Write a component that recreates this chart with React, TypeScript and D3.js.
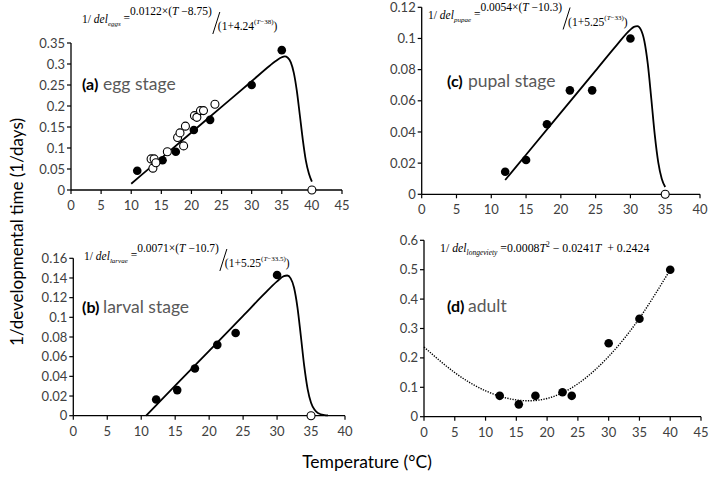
import React, { useLayoutEffect, useRef, useState } from "react";
import * as d3 from "d3";

// ---------- data ----------
// (a) egg stage
const eggFilledT = [11, 15.2, 17.4, 20.4, 23.1, 30, 35];
const eggFilledR = [0.046, 0.071, 0.091, 0.143, 0.167, 0.25, 0.333];
const eggOpenT = [13.3, 13.8, 13.6, 14.1, 16.0, 17.7, 18.1, 19.0, 18.7, 20.5, 20.9, 21.5, 22.0, 23.9, 40];
const eggOpenR = [0.074, 0.074, 0.052, 0.065, 0.091, 0.125, 0.136, 0.152, 0.105, 0.177, 0.173, 0.189, 0.189, 0.204, 0];
const eggCurveT = [10, 15, 20, 25, 30, 33, 34, 35, 35.5, 36, 36.5, 37, 37.5, 38, 38.5, 39, 39.5, 40];
const eggCurveR = [0.015, 0.076, 0.137, 0.198, 0.259, 0.296, 0.307, 0.316, 0.318, 0.315, 0.304, 0.279, 0.236, 0.178, 0.119, 0.07, 0.039, 0.02];

// (b) larval stage
const larvFilledT = [12.2, 15.3, 17.9, 21.2, 23.9, 30];
const larvFilledR = [0.0165, 0.026, 0.048, 0.072, 0.084, 0.143];
const larvOpenT = [35];
const larvOpenR = [0];
const larvCurveT = [10.7, 15, 20, 25, 28, 30, 31, 31.5, 32, 32.5, 33, 33.5, 34, 34.5, 35, 35.5, 36, 37, 37.5];
const larvCurveR = [0, 0.0305, 0.066, 0.1015, 0.123, 0.1366, 0.1419, 0.1425, 0.1396, 0.13, 0.1102, 0.081, 0.0503, 0.027, 0.0132, 0.0062, 0.0028, 0.0006, 0.0003];

// (c) pupal stage
const pupFilledT = [12, 15, 18, 21.3, 24.5, 30];
const pupFilledR = [0.0145, 0.022, 0.045, 0.0667, 0.0667, 0.1];
const pupOpenT = [35];
const pupOpenR = [0];
const pupCurveT = [12, 15, 20, 25, 28, 30, 30.5, 31, 31.5, 32, 32.5, 33, 33.5, 34, 34.5, 35];
const pupCurveR = [0.0092, 0.0254, 0.0524, 0.0794, 0.0956, 0.1057, 0.1074, 0.1079, 0.1057, 0.0984, 0.0835, 0.0613, 0.0381, 0.0205, 0.01, 0.0047];

// (d) adult
const adultT = [12.3, 15.4, 18.1, 22.5, 24, 30, 35, 40];
const adultR = [0.071, 0.042, 0.071, 0.083, 0.071, 0.25, 0.333, 0.5];
const adultCurveT = [0, 5, 10, 15, 20, 25, 30, 35, 40];
const adultCurveR = [0.237, 0.15, 0.088, 0.057, 0.062, 0.112, 0.205, 0.335, 0.5];

// ticks
const xTicks45 = [0, 5, 10, 15, 20, 25, 30, 35, 40, 45];
const xTicks40 = [0, 5, 10, 15, 20, 25, 30, 35, 40];
const yTicksA = [0, 0.05, 0.1, 0.15, 0.2, 0.25, 0.3, 0.35];
const yTicksB = [0, 0.02, 0.04, 0.06, 0.08, 0.1, 0.12, 0.14, 0.16];
const yTicksC = [0, 0.02, 0.04, 0.06, 0.08, 0.1, 0.12];
const yTicksD = [0, 0.1, 0.2, 0.3, 0.4, 0.5, 0.6];

const SANS = "Lato, 'Open Sans', sans-serif";
const SERIF = "'Liberation Serif', 'DejaVu Serif', serif";
const TICK_COLOR = "#404040";

const fmt = (v: number) => String(+v.toFixed(3));

type PanelProps = {
  xTicks: number[];
  yTicks: number[];
  xRange: [number, number];
  yRange: [number, number];
  curveT: number[];
  curveR: number[];
  dotted?: boolean;
  filledT: number[];
  filledR: number[];
  openT: number[];
  openR: number[];
  tag: string;
  name: string;
  labelX: number;
  labelY: number;
};

function Panel(p: PanelProps) {
  const xMax = p.xTicks[p.xTicks.length - 1];
  const yMax = p.yTicks[p.yTicks.length - 1];
  const x = d3.scaleLinear().domain([0, xMax]).range(p.xRange);
  const y = d3.scaleLinear().domain([0, yMax]).range(p.yRange);
  const pts: [number, number][] = p.curveT.map((t, i) => [t, p.curveR[i]]);
  const line = d3
    .line<[number, number]>()
    .x((d) => x(d[0]))
    .y((d) => y(d[1]))
    .curve(p.dotted ? d3.curveNatural : d3.curveMonotoneX);
  const x0 = x(0);
  const y0 = y(0);
  return (
    <g>
      <line x1={x0} y1={y0} x2={x0} y2={y(yMax)} stroke="#000" strokeWidth={1.3} />
      <line x1={x0} y1={y0} x2={x(xMax)} y2={y0} stroke="#000" strokeWidth={1.3} />
      {p.yTicks.map((t) => (
        <g key={"y" + t}>
          <line x1={x0 - 4} x2={x0} y1={y(t)} y2={y(t)} stroke="#000" strokeWidth={1.2} />
          <text x={x0 - 6} y={y(t)} dy="0.35em" textAnchor="end" fontFamily={SANS} fontSize={13} fill={TICK_COLOR}>
            {fmt(t)}
          </text>
        </g>
      ))}
      {p.xTicks.map((t) => (
        <g key={"x" + t}>
          <line x1={x(t)} x2={x(t)} y1={y0} y2={y0 + 4} stroke="#000" strokeWidth={1.2} />
          <text x={x(t)} y={y0 + 20} textAnchor="middle" fontFamily={SANS} fontSize={13} fill={TICK_COLOR}>
            {fmt(t)}
          </text>
        </g>
      ))}
      <path
        d={line(pts) || ""}
        fill="none"
        stroke="#000"
        strokeWidth={p.dotted ? 1.4 : 1.8}
        strokeDasharray={p.dotted ? "1.3,1.3" : undefined}
      />
      {p.filledT.map((t, i) => (
        <circle key={"f" + i} cx={x(t)} cy={y(p.filledR[i])} r={4.3} fill="#000" />
      ))}
      {p.openT.map((t, i) => (
        <circle key={"o" + i} cx={x(t)} cy={y(p.openR[i])} r={4} fill="#fff" stroke="#000" strokeWidth={1.1} />
      ))}
      <text x={p.labelX} y={p.labelY} fontFamily={SANS} fontSize={16} fontWeight="bold" fill="#000">
        {p.tag}
      </text>
      <text x={p.labelX + 21} y={p.labelY} fontFamily={SANS} fontSize={17.5} fill="#595959">
        {p.name}
      </text>
    </g>
  );
}

type FracProps = {
  x: number;
  b: number;
  sub: string;
  coef: string;
  off: string;
  base: string;
  expOff: string;
};

function FracEq({ x, b, sub, coef, off, base, expOff }: FracProps) {
  const fs = 11.5;
  const sfs = 7;
  const ref = useRef<SVGTextElement>(null);
  const [w, setW] = useState(120);
  useLayoutEffect(() => {
    if (ref.current) setW(ref.current.getComputedTextLength());
  }, []);
  const sx = x + w + 1;
  return (
    <g>
      <text ref={ref} x={x} y={b} fontFamily={SERIF} fontSize={fs} fill="#000">
        <tspan>1/ </tspan>
        <tspan fontStyle="italic">del</tspan>
        <tspan y={b + 3} fontSize={sfs} fontStyle="italic">{sub}</tspan>
        <tspan y={b - 1}> =</tspan>
        <tspan y={b - 8}>{coef}×(</tspan>
        <tspan fontStyle="italic">T</tspan>
        <tspan> −{off})</tspan>
      </text>
      <line x1={sx} y1={b + 11} x2={sx + 7} y2={b - 11} stroke="#000" strokeWidth={1} />
      <text x={sx + 5} y={b + 7} fontFamily={SERIF} fontSize={fs} fill="#000">
        <tspan>(1+{base}</tspan>
        <tspan y={b + 1} fontSize={sfs}>(</tspan>
        <tspan fontSize={sfs} fontStyle="italic">T</tspan>
        <tspan fontSize={sfs}>−{expOff})</tspan>
        <tspan y={b + 7}>)</tspan>
      </text>
    </g>
  );
}

export default function App() {
  return (
    <svg width={709} height={477} style={{ position: "absolute", left: 0, top: 0, background: "#fff" }}>
      <rect width={709} height={477} fill="#fff" />
      <Panel
        xTicks={xTicks45}
        yTicks={yTicksA}
        xRange={[71, 342]}
        yRange={[190, 43]}
        curveT={eggCurveT}
        curveR={eggCurveR}
        filledT={eggFilledT}
        filledR={eggFilledR}
        openT={eggOpenT}
        openR={eggOpenR}
        tag="(a)"
        name="egg stage"
        labelX={82}
        labelY={90}
      />
      <Panel
        xTicks={xTicks40}
        yTicks={yTicksB}
        xRange={[73.3, 345]}
        yRange={[415.7, 258.3]}
        curveT={larvCurveT}
        curveR={larvCurveR}
        filledT={larvFilledT}
        filledR={larvFilledR}
        openT={larvOpenT}
        openR={larvOpenR}
        tag="(b)"
        name="larval stage"
        labelX={82}
        labelY={313}
      />
      <Panel
        xTicks={xTicks40}
        yTicks={yTicksC}
        xRange={[421.7, 700]}
        yRange={[194.3, 7.3]}
        curveT={pupCurveT}
        curveR={pupCurveR}
        filledT={pupFilledT}
        filledR={pupFilledR}
        openT={pupOpenT}
        openR={pupOpenR}
        tag="(c)"
        name="pupal stage"
        labelX={447}
        labelY={87}
      />
      <Panel
        xTicks={xTicks45}
        yTicks={yTicksD}
        xRange={[424, 701]}
        yRange={[416.7, 240.3]}
        curveT={adultCurveT}
        curveR={adultCurveR}
        dotted
        filledT={adultT}
        filledR={adultR}
        openT={[]}
        openR={[]}
        tag="(d)"
        name="adult"
        labelX={447}
        labelY={312}
      />
      <FracEq x={82} b={23} sub="eggs" coef="0.0122" off="8.75" base="4.24" expOff="38" />
      <FracEq x={84} b={260} sub="larvae" coef="0.0071" off="10.7" base="5.25" expOff="33.5" />
      <FracEq x={428} b={18.5} sub="pupae" coef="0.0054" off="10.3" base="5.25" expOff="33" />
      <text x={440} y={252} fontFamily={SERIF} fontSize={11.8} fill="#000">
        <tspan>1/ </tspan>
        <tspan fontStyle="italic">del</tspan>
        <tspan y={255} fontSize={7.5} fontStyle="italic">longeviety</tspan>
        <tspan y={252}> =0.0008</tspan>
        <tspan fontStyle="italic">T</tspan>
        <tspan y={246.5} fontSize={7.5}>2</tspan>
        <tspan y={252}> − 0.0241</tspan>
        <tspan fontStyle="italic">T</tspan>
        <tspan dx={3}> + 0.2424</tspan>
      </text>
      <text
        transform="translate(23,232) rotate(-90)"
        textAnchor="middle"
        fontFamily={SANS}
        fontSize={17}
        fill="#000"
      >
        1/developmental time (1/days)
      </text>
      <text x={367} y={468} textAnchor="middle" fontFamily={SANS} fontSize={17.5} fill="#000">
        Temperature (°C)
      </text>
    </svg>
  );
}
